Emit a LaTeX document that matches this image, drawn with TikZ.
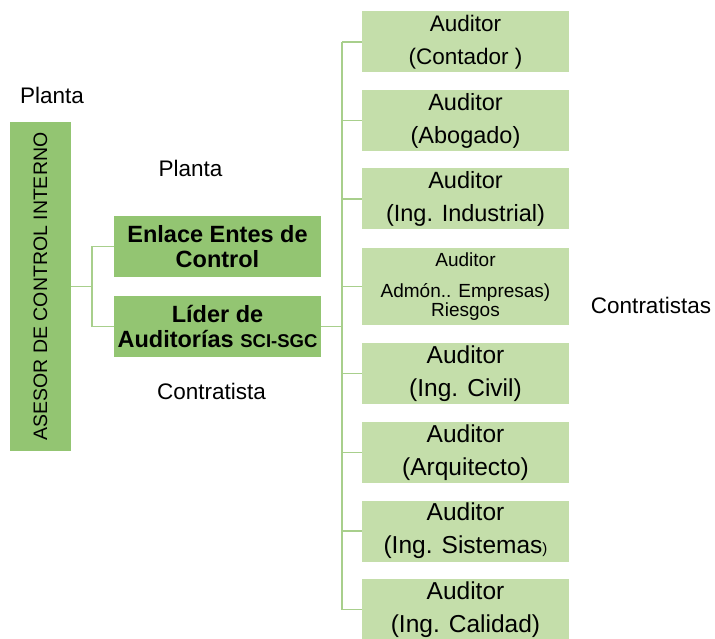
\documentclass[tikz,border=0pt]{standalone}
\usepackage{fontspec}
\setmainfont{Liberation Sans}
\usepackage{xcolor}
\usepackage{tikz}
\usetikzlibrary{positioning, calc}

\definecolor{darkgreen}{HTML}{93C572}
\definecolor{lightgreen}{HTML}{C4DEAA}
\definecolor{linegreen}{HTML}{A8CF8C}

\begin{document}
\begin{tikzpicture}[
    x=1pt, y=-1pt,
    box/.style={inner sep=0pt, align=center, minimum width=207pt, minimum height=61pt},
    head/.style={box, fill=darkgreen, font=\fontsize{23.5}{25}\selectfont\bfseries},
    aud/.style={box, fill=lightgreen, font=\fontsize{#1}{33}\selectfont},
    aud/.default=23.5,
    lbl/.style={font=\fontsize{22.5}{27}\selectfont},
    conn/.style={draw=linegreen, line width=1.2pt}
]
    \useasboundingbox (0,0) rectangle (715,639);

    \node[box, fill=darkgreen, minimum width=61pt, minimum height=329pt] (asesor) at (40.5, 286.5) {};
    \node[rotate=90, font=\fontsize{19.5}{22}\selectfont] at (asesor.center) {ASESOR DE CONTROL INTERNO};

    \node[head] (enlace) at (217.5, 246.5) {Enlace Entes de\\Control};
    \node[head] (lider) at (217.5, 326.5) {L\'ider de\\Auditor\'ias {\fontsize{18.5}{25}\selectfont SCI-SGC}};

    \node[lbl] (planta1) at (52, 95) {Planta};
    \node[lbl] (planta2) at (190.5, 168) {Planta};
    \node[lbl] (contr1) at (211.5, 391) {Contratista};
    \node[lbl] (contr2) at (651, 305) {Contratistas};

    % auditores
    \node[aud=22.5] (aud1) at (465.5, 42) {Auditor\\(Contador )};
    \node[aud] (aud2) at (465.5, 120.5) {Auditor\\(Abogado)};
    \node[aud] (aud3) at (465.5, 199) {Auditor\\(Ing. Industrial)};
    \node[aud, minimum height=77pt, font=\fontsize{19}{19}\selectfont] (aud4) at (465.5, 286.5)
        {Auditor\\[12pt]Adm\'on.. Empresas)\\Riesgos};
    \node[aud=24.5] (aud5) at (465.5, 373.5) {Auditor\\(Ing. Civil)};
    \node[aud=24.5] (aud6) at (465.5, 452.5) {Auditor\\(Arquitecto)};
    \node[aud=24.5] (aud7) at (465.5, 531) {Auditor\\(Ing. Sistemas{\fontsize{15}{33}\selectfont)}};
    \node[aud=24.5] (aud8) at (465.5, 609.5) {Auditor\\(Ing. Calidad)};

    % conectores
    \coordinate (split) at (92, 286.5);
    \coordinate (bus) at (342, 326.5);
    \draw[conn] (asesor.east) -- (split);
    \draw[conn] (split) |- (enlace.west);
    \draw[conn] (split) |- (lider.west);
    \draw[conn] (lider.east) -- (bus);
    \draw[conn] (bus |- aud1.west) -- (bus |- aud8.west);
    \foreach \n in {1,...,8}
        \draw[conn] (bus |- aud\n.west) -- (aud\n.west);
\end{tikzpicture}
\end{document}
